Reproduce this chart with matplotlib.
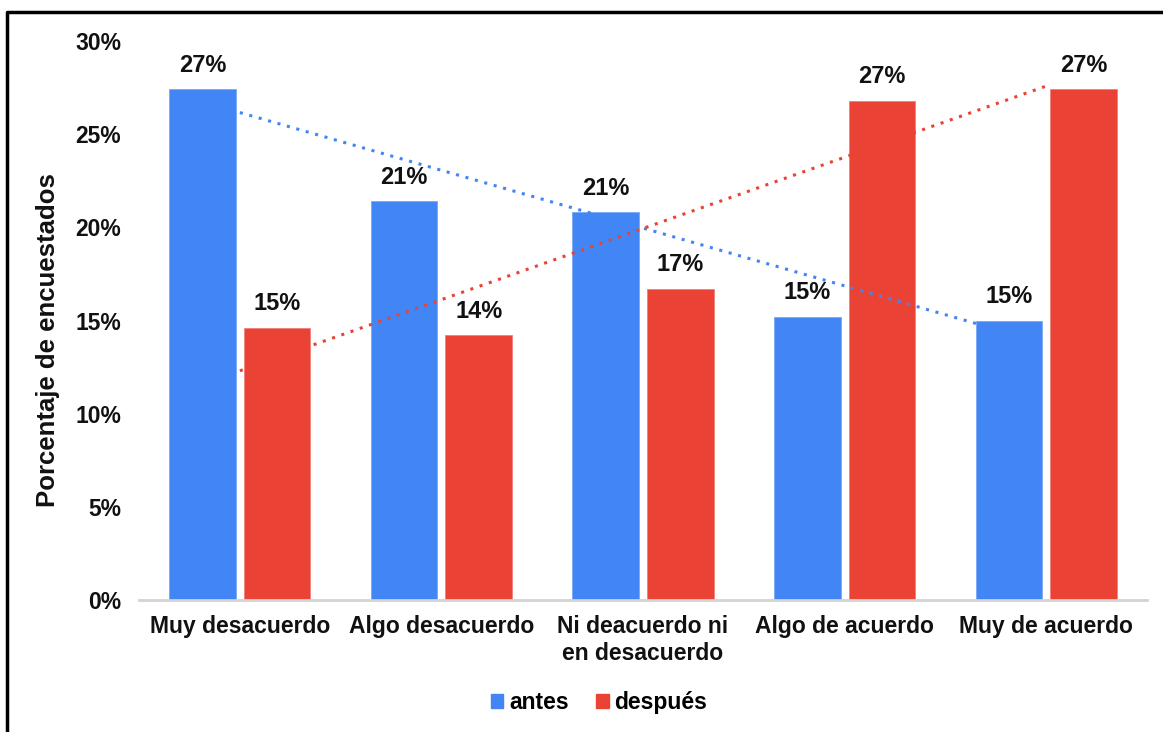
import matplotlib.pyplot as plt
import numpy as np
from matplotlib.lines import Line2D
from matplotlib.patches import Patch

plt.rcParams["font.family"] = ["Liberation Sans", "DejaVu Sans"]
plt.rcParams["font.weight"] = "bold"

# Data
categorias = [
    "Muy desacuerdo",
    "Algo desacuerdo",
    "Ni deacuerdo ni\nen desacuerdo",
    "Algo de acuerdo",
    "Muy de acuerdo",
]
antes = [27.4, 21.4, 20.8, 15.2, 15.0]
despues = [14.6, 14.2, 16.7, 26.8, 27.4]
etiquetas_antes = ["27%", "21%", "21%", "15%", "15%"]
etiquetas_despues = ["15%", "14%", "17%", "27%", "27%"]
yticks = [0, 5, 10, 15, 20, 25, 30]

azul = "#4285F4"
rojo = "#EA4335"

fig = plt.figure(figsize=(11.63, 7.32), dpi=100)
ax = fig.add_axes([0.1196, 0.1803, 0.8666, 0.7637])

x = np.arange(len(categorias))
ancho = 0.33
desp = 0.185

b1 = ax.bar(x - desp, antes, ancho, color=azul, edgecolor="#7aa7f7", linewidth=0.6)
b2 = ax.bar(x + desp, despues, ancho, color=rojo, edgecolor="#f08078", linewidth=0.6)

# Data labels
for rect, txt in zip(b1, etiquetas_antes):
    ax.annotate(txt, (rect.get_x() + rect.get_width() / 2, rect.get_height()),
                xytext=(0, 9), textcoords="offset points", ha="center", va="bottom",
                fontsize=17, fontweight="bold", color="#111111")
for rect, txt in zip(b2, etiquetas_despues):
    ax.annotate(txt, (rect.get_x() + rect.get_width() / 2, rect.get_height()),
                xytext=(0, 9), textcoords="offset points", ha="center", va="bottom",
                fontsize=17, fontweight="bold", color="#111111")

# Linear trendlines
for serie, color in [(antes, azul), (despues, rojo)]:
    m, c = np.polyfit(x, serie, 1)
    ax.plot(x, m * x + c, color=color, linewidth=2.2, linestyle=(0, (1, 2.2)),
            zorder=3)

ax.set_xlim(-0.5, 4.5)
ax.set_ylim(0, 30)
ax.set_yticks(yticks)
ax.set_yticklabels([f"{t}%" for t in yticks])
ax.set_xticks(x)
ax.set_xticklabels(categorias)
ax.tick_params(axis="both", length=0, labelsize=16.5, colors="#111111")
ax.tick_params(axis="x", pad=11)
ax.tick_params(axis="y", pad=13)
for lab in ax.get_xticklabels() + ax.get_yticklabels():
    lab.set_fontweight("bold")

for s in ["top", "right", "left"]:
    ax.spines[s].set_visible(False)
ax.spines["bottom"].set_color("#d3d3d3")
ax.spines["bottom"].set_linewidth(2)

ax.set_ylabel("Porcentaje de encuestados", fontsize=18.5, fontweight="bold",
              color="#111111")
ax.yaxis.set_label_coords(-0.078, 0.465)

handles = [Patch(color=azul, label="antes"), Patch(color=rojo, label="después")]
fig.legend(handles=handles, loc="center", bbox_to_anchor=(0.515, 0.04), ncol=2,
           frameon=False, fontsize=16.5, handlelength=0.55, handleheight=0.55,
           handletextpad=0.25, columnspacing=1.2)

# Border
bx = 7 / 1163
by = 1 - 12 / 732
fig.add_artist(Line2D([bx, bx, 1.0], [0.0, by, by], transform=fig.transFigure,
                      color="black", linewidth=2.5))

fig.savefig("out.png", dpi=100)
